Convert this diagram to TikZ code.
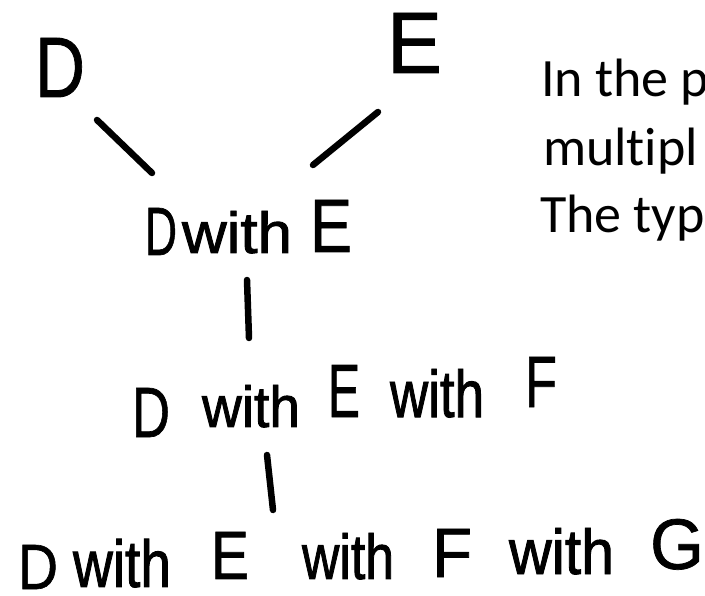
\documentclass[tikz,border=0pt]{standalone}
\usepackage{fontspec}
\usepackage{graphicx}
\setmainfont{Carlito}[Ligatures=NoCommon]
\newfontfamily\handf{Liberation Sans}[FakeBold=1]
\newfontfamily\handwf{Liberation Sans}[FakeBold=1.5]
\usetikzlibrary{calc}
\newcommand{\hw}[4][0]{\raisebox{#1pt}{\resizebox{#2pt}{#3pt}{\handf #4}}}
\newcommand{\hwith}[3][0]{\raisebox{#1pt}{\resizebox{#2pt}{#3pt}{\handwf with}}}
\begin{document}
\begin{tikzpicture}[x=1pt,y=-1pt,
  hand/.style={inner sep=0pt, outer sep=0pt, anchor=base west},
  prose/.style={inner sep=0pt, outer sep=0pt, anchor=base west, font=\fontsize{54}{64}\selectfont},
  link/.style={line width=6.5pt, line cap=round}]
\useasboundingbox (0,0) rectangle (705,596);
\clip (0,0) rectangle (705,596);
\node[hand] (D) at (35,97) {\hw{50}{59}{D}};
\node[hand] (E) at (387,73) {\hw{55}{60}{E}};
\node[hand] (DE) at (145,255) {\hw{32}{47}{D}\hspace{5pt}\hwith[2]{110}{42}\hspace{18pt}\hw[3]{42}{52}{E}};
\node[hand] (DEF) at (132,437) {\hw{38}{49}{D}\hspace{32pt}\hwith[10]{98}{42}\hspace{28pt}\hw[20]{32}{52}{E}\hspace{30pt}\hwith[20]{94}{48}\hspace{41pt}\hw[30]{32}{50}{F}};
\node[hand] (DEFG) at (18,589) {\hw{40}{44}{D}\hspace{15pt}\hwith[2]{98}{48}\hspace{40pt}\hw[10]{38}{47}{E}\hspace{53pt}\hwith[10]{92}{46}\hspace{38pt}\hw[12]{40}{48}{F}\hspace{37pt}\hwith[15]{105}{46}\hspace{36pt}\hw[20]{54}{50}{G}};
\node[prose] (p1) at (541,97) {In the p};
\node[prose] (p2) at (543,166) {multipl};
\node[prose] (p3) at (540,233) {The typ};
\draw[link] ($(D.base east)+(12,23)$) -- ($(DE.base west)+(7,-82)$);
\draw[link] ($(E.base west)+(-9,39)$) -- ($(DE.base west)+(168,-90)$);
\draw[link] ($(DE.base west)+(102,25)$) -- ($(DEF.base west)+(117,-99)$);
\draw[link] ($(DEF.base west)+(135,18)$) -- ($(DEFG.base west)+(255,-79)$);
\end{tikzpicture}
\end{document}
